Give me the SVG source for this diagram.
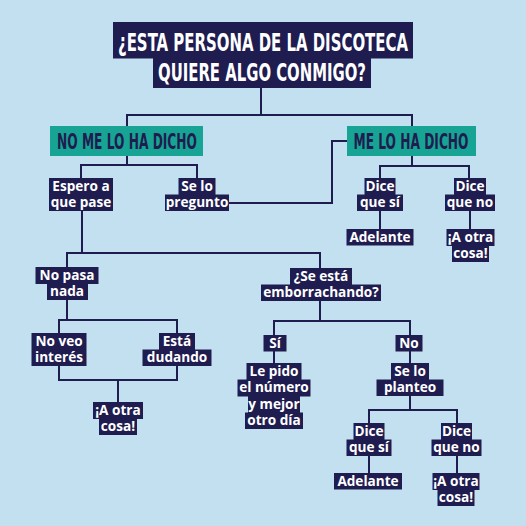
<svg xmlns="http://www.w3.org/2000/svg" width="526" height="526" viewBox="0 0 526 526">
<style>
.bg{fill:#c3e0f0}
.box{fill:#1f1c50}
.teal{fill:#18a494}
.t{font-family:"Open Sans","Noto Sans","DejaVu Sans",sans-serif;font-weight:700;font-size:13.6px;fill:#ffffff;text-anchor:middle}
.h{font-family:"DejaVu Sans Condensed","DejaVu Sans",sans-serif;font-weight:700;text-anchor:middle}
#connectors path{fill:none;stroke:#1f1c50;stroke-width:2}
</style>
<rect class="bg" x="0" y="0" width="526" height="526"/>
<g id="connectors">
<path d="M261 88V115M127 126V115H412V126"/>
<path d="M127 156V165M81 178V165H197V178"/>
<path d="M229 203H332V141H347"/>
<path d="M412 156V166M380 178V166H469V178"/>
<path d="M380 211V229M470 211V229"/>
<path d="M82 211V253M67 267V253H320V268"/>
<path d="M67 300V320M59 333V320H177V333"/>
<path d="M59 366V380H177V366M118 380V402"/>
<path d="M320 301V321M274 335V321H410V335"/>
<path d="M274 351V363M410 351V363"/>
<path d="M410 396V410M369 423V410H457V423"/>
<path d="M369 456V473M457 456V473"/>
</g>
<g id="title">
<rect class="box" x="113" y="22" width="300" height="36.5"/>
<rect class="box" x="153" y="58" width="218" height="30"/>
<text class="h" x="263" y="50.5" font-size="24" fill="#ffffff" textLength="290" lengthAdjust="spacingAndGlyphs">¿ESTA PERSONA DE LA DISCOTECA</text>
<text class="h" x="262" y="81" font-size="24" fill="#ffffff" textLength="208" lengthAdjust="spacingAndGlyphs">QUIERE ALGO CONMIGO?</text>
</g>
<g id="no-me-lo-ha-dicho">
<rect class="teal" x="50" y="126" width="153" height="30"/>
<text class="h" x="127" y="148.5" font-size="21" fill="#1f1c50" textLength="140" lengthAdjust="spacingAndGlyphs">NO ME LO HA DICHO</text>
</g>
<g id="me-lo-ha-dicho">
<rect class="teal" x="347" y="126" width="129" height="30"/>
<text class="h" x="411" y="148.5" font-size="21" fill="#1f1c50" textLength="115" lengthAdjust="spacingAndGlyphs">ME LO HA DICHO</text>
</g>
<g id="espero">
<rect class="box" x="49" y="178" width="64" height="17"/>
<rect class="box" x="49" y="194.5" width="64" height="16.5"/>
<text class="t" x="81" y="190.7">Espero a</text>
<text class="t" x="81" y="207.2">que pase</text>
</g>
<g id="se-lo-pregunto">
<rect class="box" x="178.5" y="178" width="37" height="17"/>
<rect class="box" x="165" y="194.5" width="64" height="16.5"/>
<text class="t" x="197" y="190.7">Se lo</text>
<text class="t" x="197" y="207.2">pregunto</text>
</g>
<g id="dice-si-1">
<rect class="box" x="364.5" y="178" width="31" height="17"/>
<rect class="box" x="357" y="194.5" width="46" height="16.5"/>
<text class="t" x="380" y="190.7">Dice</text>
<text class="t" x="380" y="207.2">que sí</text>
</g>
<g id="dice-no-1">
<rect class="box" x="454" y="178" width="32" height="17"/>
<rect class="box" x="445" y="194.5" width="50" height="16.5"/>
<text class="t" x="470" y="190.7">Dice</text>
<text class="t" x="470" y="207.2">que no</text>
</g>
<g id="adelante-1">
<rect class="box" x="346.5" y="229" width="67" height="16.5"/>
<text class="t" x="380" y="241.7">Adelante</text>
</g>
<g id="otra-cosa-1">
<rect class="box" x="446.5" y="229" width="48" height="17"/>
<rect class="box" x="452" y="245.5" width="37" height="16.5"/>
<text class="t" x="470.5" y="241.7">¡A otra</text>
<text class="t" x="470.5" y="258.2">cosa!</text>
</g>
<g id="no-pasa-nada">
<rect class="box" x="35.5" y="267" width="63" height="17"/>
<rect class="box" x="47" y="283.5" width="41" height="16.5"/>
<text class="t" x="67" y="279.7">No pasa</text>
<text class="t" x="67" y="296.2">nada</text>
</g>
<g id="emborrachando">
<rect class="box" x="290" y="268" width="62" height="17"/>
<rect class="box" x="261" y="284.5" width="120" height="16.5"/>
<text class="t" x="321" y="280.7">¿Se está</text>
<text class="t" x="321" y="297.2">emborrachando?</text>
</g>
<g id="no-veo-interes">
<rect class="box" x="31.5" y="333" width="55" height="33"/>
<text class="t" x="59" y="345.7">No veo</text>
<text class="t" x="59" y="362.2">interés</text>
</g>
<g id="esta-dudando">
<rect class="box" x="159" y="333" width="36" height="17"/>
<rect class="box" x="142.5" y="349.5" width="69" height="16.5"/>
<text class="t" x="177" y="345.7">Está</text>
<text class="t" x="177" y="362.2">dudando</text>
</g>
<g id="otra-cosa-2">
<rect class="box" x="93" y="402" width="50" height="17"/>
<rect class="box" x="99" y="418.5" width="38" height="16.5"/>
<text class="t" x="118" y="414.7">¡A otra</text>
<text class="t" x="118" y="431.2">cosa!</text>
</g>
<g id="si">
<rect class="box" x="263.5" y="335" width="23" height="16.5"/>
<text class="t" x="275" y="347.7">Sí</text>
</g>
<g id="no">
<rect class="box" x="395.5" y="335" width="27" height="16.5"/>
<text class="t" x="409" y="347.7">No</text>
</g>
<g id="le-pido">
<rect class="box" x="246.5" y="363" width="55" height="17"/>
<rect class="box" x="237.5" y="379.5" width="73" height="17"/>
<rect class="box" x="248" y="396" width="52" height="17"/>
<rect class="box" x="245" y="412.5" width="58" height="16.5"/>
<text class="t" x="274" y="375.7">Le pido</text>
<text class="t" x="274" y="392.2">el número</text>
<text class="t" x="274" y="408.7">y mejor</text>
<text class="t" x="274" y="425.2">otro día</text>
</g>
<g id="se-lo-planteo">
<rect class="box" x="391" y="363" width="38" height="17"/>
<rect class="box" x="376.5" y="379.5" width="67" height="16.5"/>
<text class="t" x="410" y="375.7">Se lo</text>
<text class="t" x="410" y="392.2">planteo</text>
</g>
<g id="dice-si-2">
<rect class="box" x="353.5" y="423" width="31" height="17"/>
<rect class="box" x="346.5" y="439.5" width="45" height="16.5"/>
<text class="t" x="369" y="435.7">Dice</text>
<text class="t" x="369" y="452.2">que sí</text>
</g>
<g id="dice-no-2">
<rect class="box" x="441" y="423" width="31" height="17"/>
<rect class="box" x="431.5" y="439.5" width="50" height="16.5"/>
<text class="t" x="456.5" y="435.7">Dice</text>
<text class="t" x="456.5" y="452.2">que no</text>
</g>
<g id="adelante-2">
<rect class="box" x="334" y="473" width="68" height="16.5"/>
<text class="t" x="368" y="485.7">Adelante</text>
</g>
<g id="otra-cosa-3">
<rect class="box" x="432.5" y="473" width="47" height="17"/>
<rect class="box" x="437.5" y="489.5" width="37" height="16.5"/>
<text class="t" x="456" y="485.7">¡A otra</text>
<text class="t" x="456" y="502.2">cosa!</text>
</g>
</svg>
